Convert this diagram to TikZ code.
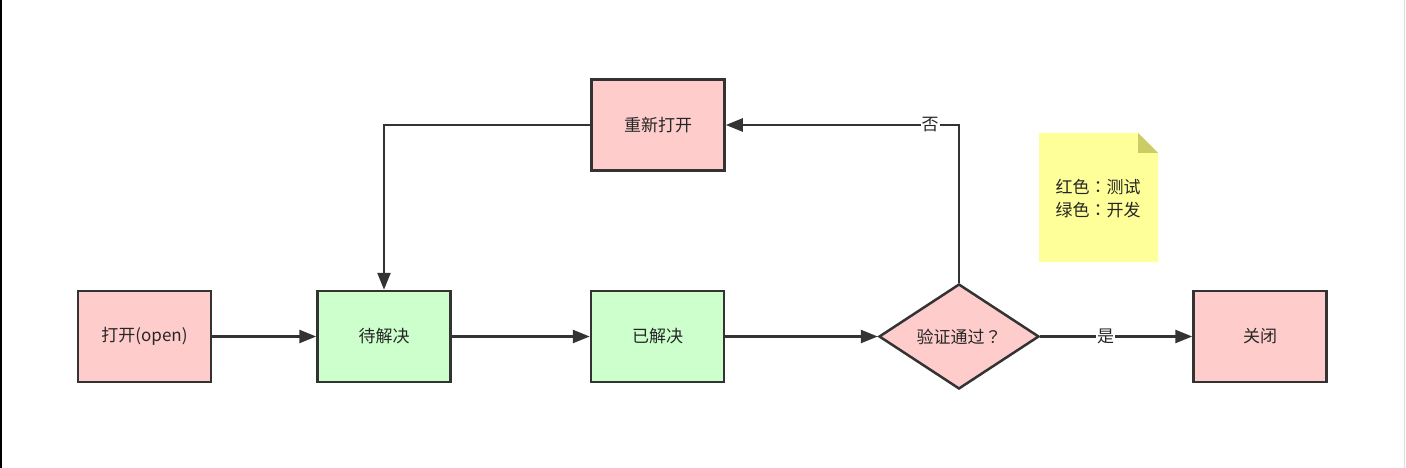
\documentclass[tikz,border=0pt]{standalone}
\usepackage{fontspec}
\setmainfont{Noto Sans CJK SC}
\newfontfamily\punctfont{Noto Sans CJK TC}
\usetikzlibrary{shapes.geometric,arrows.meta}
\definecolor{strokec}{HTML}{333333}
\definecolor{pinkfill}{HTML}{FFCCCC}
\definecolor{greenfill}{HTML}{CCFFCC}
\definecolor{notefill}{HTML}{FFFF99}
\definecolor{notefold}{HTML}{CCCC66}
\begin{document}
\begin{tikzpicture}[x=1pt,y=-1pt,
  txt/.style={font=\fontsize{17}{23}\selectfont, text=black!85},
  box/.style={txt, draw=strokec, line width=2.5pt, minimum width=133pt, minimum height=91pt, inner sep=0pt},
  redbox/.style={box, fill=pinkfill},
  greenbox/.style={box, fill=greenfill},
  decision/.style={txt, diamond, draw=strokec, line width=2.5pt, fill=pinkfill, minimum width=160pt, minimum height=105pt, inner sep=0pt},
  flow/.style={draw=strokec, line width=2.5pt, -{Triangle[length=17pt,width=13pt]}},
  lbl/.style={txt, fill=white, inner sep=1pt}
]
\fill[white] (0,0) rectangle (1406,468);
\useasboundingbox (0,0) rectangle (1406,468);
\draw[black, line width=2pt] (1,0) -- (1,468);
\draw[black!12, line width=1pt] (1404.5,0) -- (1404.5,468);

\node[redbox] (open) at (144.5,336.5) {打开(open)};
\node[greenbox] (pending) at (384,336.5) {待解决};
\node[greenbox] (resolved) at (657.5,336.5) {已解决};
\node[redbox] (reopen) at (658,125) {重新打开};
\node[decision] (verify) at (959,336.5) {验证通过{\punctfont ？}};
\node[redbox] (closed) at (1260,336.5) {关闭};

\draw[flow] (open) -- (pending);
\draw[flow] (pending) -- (resolved);
\draw[flow] (resolved) -- (verify);
\draw[flow] (verify) -- node[lbl, pos=0.43] {是} (closed);
\draw[flow] (verify.north) |- node[lbl, pos=0.562] {否} (reopen.east);
\draw[flow] (reopen.west) -| (pending.north);

\fill[notefill] (1039,133) -- (1138,133) -- (1158,153) -- (1158,262) -- (1039,262) -- cycle;
\fill[notefold] (1138,133) -- (1138,153) -- (1158,153) -- cycle;
\node[txt, align=left] (legend) at (1098,199) {红色{\punctfont ：}测试\\绿色{\punctfont ：}开发};
\end{tikzpicture}
\end{document}
